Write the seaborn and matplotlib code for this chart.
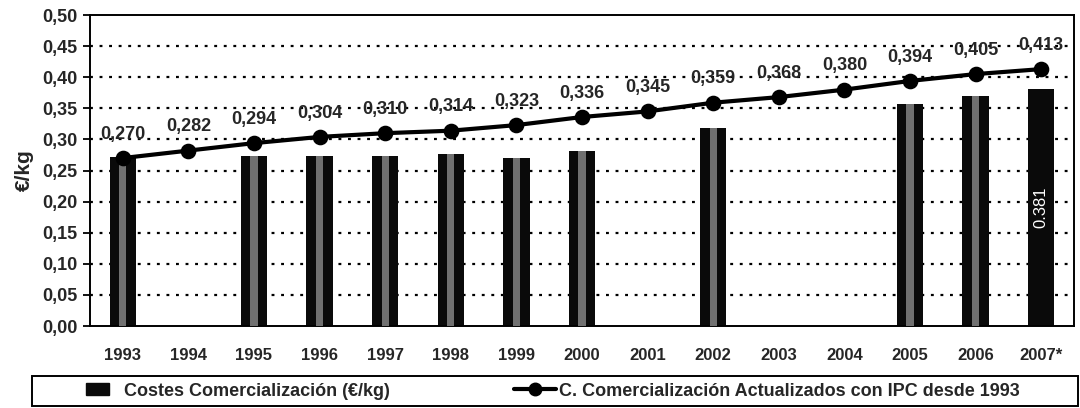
import numpy as np
import pandas as pd
import matplotlib
matplotlib.use("Agg")
import matplotlib.pyplot as plt
import seaborn as sns
from matplotlib.patches import Patch, Rectangle
from matplotlib.lines import Line2D

years = ["1993", "1994", "1995", "1996", "1997", "1998", "1999", "2000",
         "2001", "2002", "2003", "2004", "2005", "2006", "2007*"]
costes = [0.271, np.nan, 0.274, 0.274, 0.274, 0.276, 0.270, 0.282,
          np.nan, 0.319, np.nan, np.nan, 0.357, 0.370, 0.381]
ipc = [0.270, 0.282, 0.294, 0.304, 0.310, 0.314, 0.323, 0.336,
       0.345, 0.359, 0.368, 0.380, 0.394, 0.405, 0.413]
ipc_labels = ["0,270", "0,282", "0,294", "0,304", "0,310", "0,314", "0,323", "0,336",
              "0,345", "0,359", "0,368", "0,380", "0,394", "0,405", "0,413"]
yticks = [0.0, 0.05, 0.10, 0.15, 0.20, 0.25, 0.30, 0.35, 0.40, 0.45, 0.50]

sns.set_theme(style="white")
plt.rcParams["font.family"] = ["Liberation Sans", "DejaVu Sans"]
plt.rcParams["font.weight"] = "bold"

df = pd.DataFrame({"year": years, "costes": costes, "ipc": ipc})

fig = plt.figure(figsize=(10.8, 4.08), dpi=100)
ax = fig.add_axes([90 / 1080, 1 - 326 / 408, 984 / 1080, 311 / 408])

sns.barplot(data=df, x="year", y="costes", order=years, color="#0a0a0a",
            width=0.4, saturation=1, linewidth=0, ax=ax, zorder=2)
# lighter centre stripe imitating the textured fill (not on last bar)
stripe = df.copy()
stripe.loc[stripe.index[-1], "costes"] = np.nan
sns.barplot(data=stripe, x="year", y="costes", order=years, color="#707070",
            width=0.11, saturation=1, linewidth=0, ax=ax, zorder=3)

sns.pointplot(data=df, x="year", y="ipc", order=years, color="black",
              markers="o", markersize=9, linewidth=3, ax=ax, zorder=5)

for i, (v, lab) in enumerate(zip(ipc, ipc_labels)):
    ax.annotate(lab, (i, v), xytext=(0, 11), textcoords="offset points",
                ha="center", va="bottom", fontsize=13, fontweight="bold", zorder=6)

ax.text(14, costes[-1] / 2, "0.381", rotation=90, color="white", ha="center",
        va="center", fontsize=12, fontweight="normal", zorder=6)

ax.set_ylim(0, 0.5)
ax.set_xlim(-0.5, 14.5)
ax.set_yticks(yticks)
ax.set_yticklabels([f"{t:.2f}".replace(".", ",") for t in yticks],
                   fontsize=13, fontweight="bold")
ax.set_xticks(range(len(years)))
ax.set_xticklabels(years, fontsize=12, fontweight="bold")
ax.set_xticks(np.arange(-0.5, 15, 1), minor=True)
ax.tick_params(axis="x", which="major", length=0, pad=16)
ax.tick_params(axis="x", which="minor", length=5, width=1.3, direction="out", color="black")
ax.tick_params(axis="y", length=5, width=1.3, direction="out", color="black", left=True, pad=4)
ax.set_xlabel("")
ax.set_ylabel("€/kg", fontsize=15, fontweight="bold", labelpad=6)
for y in yticks[1:-1]:
    ax.axhline(y, color="black", linestyle=(0, (1.3, 3)), linewidth=1.6, zorder=1)
for s in ax.spines.values():
    s.set_visible(True)
    s.set_color("black")
    s.set_linewidth(1.4)

# legend box
fig.add_artist(Rectangle((32 / 1080, 2 / 408), 1046 / 1080, 30 / 408,
                         transform=fig.transFigure, fill=False,
                         edgecolor="black", linewidth=1.4))
leg1 = fig.legend([Patch(facecolor="#0a0a0a", edgecolor="#0a0a0a")],
                  ["Costes Comercialización (€/kg)"],
                  loc="center left", bbox_to_anchor=(86 / 1080, 17 / 408),
                  frameon=False, prop={"weight": "bold", "size": 13},
                  handlelength=1.3, handleheight=0.6, handletextpad=0.8,
                  borderpad=0, borderaxespad=0)
leg2 = fig.legend([Line2D([0], [0], color="black", marker="o", markersize=9, linewidth=3)],
                  ["C. Comercialización Actualizados con IPC desde 1993"],
                  loc="center left", bbox_to_anchor=(514 / 1080, 17 / 408),
                  frameon=False, prop={"weight": "bold", "size": 13},
                  handlelength=2.3, handletextpad=0.2,
                  borderpad=0, borderaxespad=0)

fig.savefig("out.png", dpi=100)
